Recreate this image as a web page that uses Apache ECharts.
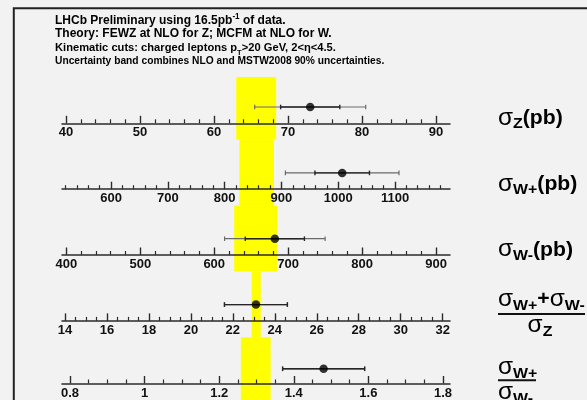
<!DOCTYPE html>
<html>
<head>
<meta charset="utf-8">
<script src="https://cdn.jsdelivr.net/npm/echarts@6/dist/echarts.min.js"></script>
<style>
  html, body { margin: 0; padding: 0; background: #f2f2f2; }
  #chart { width: 587px; height: 400px; }
</style>
</head>
<body>
<div id="chart"></div>
<script>
// Rows, top to bottom: sigma_Z, sigma_W+, sigma_W-, (W+ + W-)/Z, W+/W-
const rowNames = ['sigmaZ', 'sigmaWplus', 'sigmaWminus', 'sumOverZ', 'plusOverMinus'];
const measured = [73.0, 1007, 682, 23.1, 1.48];
const errInner = [4.0, 48, 40, 1.5, 0.11];      // stat + syst
const errTotal = [7.5, 100, 68, null, null];     // incl. luminosity (not applicable to ratios)
const theoryLow = [63.0, 826, 627, 22.9, 1.258];
const theoryHigh = [68.4, 887, 685, 23.33, 1.338];
const axisMin = [39.46, 513.7, 394.1, 13.857, 0.7786];
const axisMax = [91.89, 1196.8, 918.9, 32.35, 1.8188];
const majorTicks = [
  [40, 50, 60, 70, 80, 90],
  [600, 700, 800, 900, 1000, 1100],
  [400, 500, 600, 700, 800, 900],
  [14, 16, 18, 20, 22, 24, 26, 28, 30, 32],
  [0.8, 1, 1.2, 1.4, 1.6, 1.8]
];
const tickLabels = [
  ['40', '50', '60', '70', '80', '90'],
  ['600', '700', '800', '900', '1000', '1100'],
  ['400', '500', '600', '700', '800', '900'],
  ['14', '16', '18', '20', '22', '24', '26', '28', '30', '32'],
  ['0.8', '1', '1.2', '1.4', '1.6', '1.8']
];
const minorStep = [2, 20, 20, 0.5, 0.05];

// ---- layout ----
const FONT = 'Liberation Sans, Arial, Helvetica, sans-serif';
const axisY = [123.3, 189.2, 255.0, 320.9, 386.7];
const below = 16.5;      // slot extends this far under each axis line
const above = 49.35;     // and this far above it
const dotLift = 16.3;    // marker height above its axis line
const plotLeft = 62, plotWidth = 388;

function minorValues(i) {
  const out = [];
  const step = minorStep[i];
  const start = Math.ceil(axisMin[i] / step - 1e-9);
  for (let k = start; k * step <= axisMax[i] + 1e-9; k++) {
    const v = +(k * step).toFixed(6);
    if (!majorTicks[i].some(m => Math.abs(m - v) < step * 1e-3)) out.push(v);
  }
  return out;
}

const grids = [], xAxes = [], yAxes = [], series = [];
rowNames.forEach((name, i) => {
  const top = i === 0 ? 77 : axisY[i] - above;
  const height = axisY[i] + below - top;
  grids.push({ left: plotLeft, width: plotWidth, top: top, height: height });
  yAxes.push({ type: 'value', gridIndex: i, min: -below, max: height - below, show: false });
  // main axis: line, major ticks and labels
  xAxes.push({
    type: 'value', gridIndex: i, min: axisMin[i], max: axisMax[i],
    position: 'bottom', offset: -below, z: 3,
    splitLine: { show: false },
    axisLine: { show: true, onZero: false, lineStyle: { color: '#2b2b2b', width: 1.5 } },
    axisTick: { show: true, inside: true, length: 7.5, customValues: majorTicks[i],
                lineStyle: { color: '#2b2b2b', width: 1.4 } },
    axisLabel: {
      show: true, customValues: majorTicks[i], margin: 3,
      fontFamily: FONT, fontWeight: 'bold', fontSize: 13, color: '#111',
      formatter: v => {
        const k = majorTicks[i].findIndex(m => Math.abs(m - v) < 1e-6 * Math.max(1, Math.abs(m)));
        return k >= 0 ? tickLabels[i][k] : '';
      }
    }
  });
  // secondary axis carrying only the minor ticks
  xAxes.push({
    type: 'value', gridIndex: i, min: axisMin[i], max: axisMax[i],
    position: 'bottom', offset: -below, z: 3,
    splitLine: { show: false },
    axisLine: { show: false },
    axisLabel: { show: false },
    axisTick: { show: true, inside: true, length: 4, customValues: minorValues(i),
                lineStyle: { color: '#2b2b2b', width: 1.2 } }
  });

  // theory uncertainty band
  series.push({
    type: 'custom', name: name + '-theory', xAxisIndex: 2 * i, yAxisIndex: i, z: 1, silent: true,
    data: [[theoryLow[i], theoryHigh[i], 0]],
    encode: { x: [0, 1], y: 2 },
    renderItem: (params, api) => {
      const cs = params.coordSys;
      const x1 = api.coord([api.value(0), 0])[0];
      const x2 = api.coord([api.value(1), 0])[0];
      return { type: 'rect', shape: { x: x1, y: cs.y, width: x2 - x1, height: cs.height },
               style: { fill: '#ffff00' } };
    }
  });

  // measurement error bars
  const tot = errTotal[i] == null ? errInner[i] : errTotal[i];
  series.push({
    type: 'custom', name: name + '-errors', xAxisIndex: 2 * i, yAxisIndex: i, z: 4, silent: true,
    data: [[measured[i], measured[i] - tot, measured[i] + tot,
            measured[i] - errInner[i], measured[i] + errInner[i], dotLift]],
    encode: { x: [0, 1, 2, 3, 4], y: 5 },
    renderItem: (params, api) => {
      const yv = api.value(5);
      const cap = 2.3;
      const children = [];
      const seg = (lo, hi, color, w) => {
        const p1 = api.coord([lo, yv]), p2 = api.coord([hi, yv]);
        const st = { stroke: color, lineWidth: w };
        children.push({ type: 'line', shape: { x1: p1[0], y1: p1[1], x2: p2[0], y2: p2[1] }, style: st });
        children.push({ type: 'line', shape: { x1: p1[0], y1: p1[1] - cap, x2: p1[0], y2: p1[1] + cap }, style: st });
        children.push({ type: 'line', shape: { x1: p2[0], y1: p2[1] - cap, x2: p2[0], y2: p2[1] + cap }, style: st });
      };
      seg(api.value(1), api.value(2), '#6a6a6a', 1.2);
      seg(api.value(3), api.value(4), '#262626', 1.4);
      return { type: 'group', children: children };
    }
  });

  // central value
  series.push({
    type: 'scatter', name: name, xAxisIndex: 2 * i, yAxisIndex: i, z: 5, silent: true,
    symbol: 'circle', symbolSize: 8.5, itemStyle: { color: '#000' },
    data: [[measured[i], dotLift]]
  });
});

// ---- text ----
function headRich(fs) {
  return {
    b: { fontFamily: FONT, fontWeight: 'bold', fontSize: fs, color: '#111', verticalAlign: 'middle' },
    sup: { fontFamily: FONT, fontWeight: 'bold', fontSize: fs * 0.68, color: '#111', verticalAlign: 'middle', padding: [0, 0, 8, 0] },
    sub: { fontFamily: FONT, fontWeight: 'bold', fontSize: fs * 0.68, color: '#111', verticalAlign: 'middle', padding: [10, 0, 0, 0] }
  };
}
const headerLines = [
  '{b|LHCb Preliminary using 16.5pb}{sup|-1}{b| of data.}',
  '{b|Theory: FEWZ at NLO for Z; MCFM at NLO for W.}',
  '{b|Kinematic cuts: charged leptons p}{sub|T}{b|>20 GeV, 2<η<4.5.}',
  '{b|Uncertainty band combines NLO and MSTW2008 90% uncertainties.}'
];
const headerY = [20.5, 33.8, 47.3, 60.6];
const headerSize = [12, 12, 11.8, 11.5];
const headerScale = [1.0, 1.0, 0.945, 0.89];

const labRich = {
  s: { fontFamily: FONT, fontSize: 23, color: '#111', verticalAlign: 'middle' },
  b: { fontFamily: FONT, fontWeight: 'bold', fontSize: 20, color: '#111', verticalAlign: 'middle' },
  sub: { fontFamily: FONT, fontWeight: 'bold', fontSize: 15, color: '#111', verticalAlign: 'middle', padding: [12, 0, 0, 0] }
};

const graphics = [
  { type: 'rect', z: 0, silent: true,
    shape: { x: 13.8, y: 8.3, width: 700, height: 500 },
    style: { fill: 'none', stroke: '#222', lineWidth: 2 } }
];
headerLines.forEach((t, k) => {
  graphics.push({ type: 'text', x: 55, y: headerY[k], scaleX: headerScale[k], z: 10, silent: true,
    style: { text: t, rich: headRich(headerSize[k]), x: 0, y: 0, textAlign: 'left', textVerticalAlign: 'middle' } });
});
const sideLabels = [
  { text: '{s|σ}{sub|Z}{b|(pb)}', x: 498, y: axisY[0] - 5 },
  { text: '{s|σ}{sub|W+}{b|(pb)}', x: 498, y: axisY[1] - 5 },
  { text: '{s|σ}{sub|W-}{b|(pb)}', x: 498, y: axisY[2] - 5 },
  { text: '{s|σ}{sub|W+}{b|+}{s|σ}{sub|W-}', x: 498, y: axisY[3] - 21 },
  { text: '{s|σ}{sub|Z}', x: 540, y: axisY[3] + 5, align: 'center' },
  { text: '{s|σ}{sub|W+}', x: 498, y: axisY[4] - 19 },
  { text: '{s|σ}{sub|W-}', x: 498, y: axisY[4] + 6 }
];
sideLabels.forEach(l => {
  graphics.push({ type: 'text', x: l.x, y: l.y, scaleX: 1.06, z: 10, silent: true,
    style: { text: l.text, rich: labRich, x: 0, y: 0, textAlign: l.align || 'left', textVerticalAlign: 'middle' } });
});
[[498, 585, axisY[3] - 7], [498, 536, axisY[4] - 6.4]].forEach(f => {
  graphics.push({ type: 'line', z: 10, silent: true,
    shape: { x1: f[0], y1: f[2], x2: f[1], y2: f[2] }, style: { stroke: '#111', lineWidth: 2 } });
});

const chart = echarts.init(document.getElementById('chart'));
chart.setOption({
  backgroundColor: '#f2f2f2',
  animation: false,
  grid: grids,
  xAxis: xAxes,
  yAxis: yAxes,
  series: series,
  graphic: graphics
});
</script>
</body>
</html>
